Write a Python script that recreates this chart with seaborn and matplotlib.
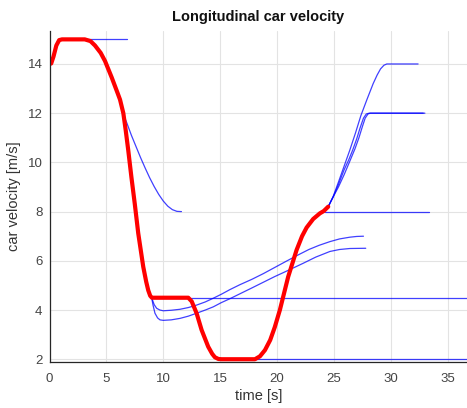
import pandas as pd
import numpy as np
import matplotlib
matplotlib.use("Agg")
import matplotlib.pyplot as plt
import seaborn as sns

### Dados (tempo [s], velocidade [m/s]) ###

# trajetória escolhida (vermelha)
red_t = [0, 0.15, 0.35, 0.6, 0.85, 1.1, 3.1, 3.6, 4.0, 4.5, 4.88, 5.47, 6.0, 6.2,
         6.49, 6.7, 6.92, 7.2, 7.5, 7.8, 8.24, 8.5, 8.68, 8.85, 9.0, 12.2, 12.5,
         12.93, 13.37, 13.95, 14.3, 14.54, 14.85, 15.13, 18.06, 18.5, 18.94, 19.4,
         19.8, 20.25, 20.98, 21.72, 22.2, 22.6, 23.18, 23.77, 24.1, 24.5]
red_v = [14.0, 14.02, 14.3, 14.75, 14.97, 15.0, 15.0, 14.93, 14.75, 14.45, 14.12,
         13.45, 12.8, 12.55, 12.0, 11.3, 10.5, 9.4, 8.3, 7.12, 5.76, 5.15, 4.8,
         4.58, 4.5, 4.5, 4.35, 3.87, 3.19, 2.51, 2.22, 2.08, 2.01, 2.0, 2.0, 2.12,
         2.37, 2.78, 3.3, 4.0, 5.35, 6.44, 7.0, 7.35, 7.7, 7.93, 8.02, 8.2]

# trajetórias candidatas (azuis)
b1_t = [3.1, 6.78]
b1_v = [15.0, 15.0]

b2_t = [6.45, 6.8, 7.2, 7.6, 8.0, 8.4, 8.8, 9.2, 9.6, 10.0, 10.4, 10.8, 11.2, 11.6]
b2_v = [12.0, 11.6, 11.1, 10.65, 10.2, 9.78, 9.38, 9.02, 8.7, 8.43, 8.22, 8.08, 8.01, 8.0]

b3_t = [9.0, 37.5]
b3_v = [4.5, 4.5]

b4_t = [8.98, 9.2, 9.42, 9.7, 10.0, 10.7, 11.47, 12.2, 12.93, 13.7, 14.4, 15.1,
        15.86, 16.74, 17.8, 18.8, 19.8, 20.8, 21.86, 22.8, 23.7, 24.65, 25.5,
        26.4, 27.0, 27.6]
b4_v = [4.5, 4.22, 4.07, 4.0, 3.97, 3.99, 4.03, 4.1, 4.2, 4.33, 4.48, 4.64, 4.83,
        5.03, 5.25, 5.48, 5.73, 5.98, 6.24, 6.46, 6.63, 6.78, 6.89, 6.96, 6.99, 7.0]

b5_t = [8.98, 9.1, 9.27, 9.5, 9.71, 10.0, 10.7, 11.47, 12.2, 12.93, 13.7, 14.4,
        15.1, 15.86, 16.74, 17.8, 18.8, 19.8, 20.6, 21.43, 22.3, 23.4, 24.65,
        25.5, 26.4, 27.8]
b5_v = [4.5, 4.2, 3.87, 3.68, 3.6, 3.58, 3.6, 3.66, 3.75, 3.87, 4.0, 4.13, 4.3,
        4.46, 4.66, 4.9, 5.13, 5.36, 5.53, 5.71, 5.9, 6.15, 6.38, 6.46, 6.5, 6.51]

b6_t = [15.1, 37.5]
b6_v = [2.0, 2.0]

b7_t = [24.2, 33.4]
b7_v = [8.0, 8.0]

b8_t = [24.5, 24.94, 25.4, 25.9, 26.4, 26.9, 27.37, 27.9, 28.45, 28.8, 29.1,
        29.4, 29.65, 32.4]
b8_v = [8.2, 8.62, 9.2, 9.85, 10.5, 11.2, 11.9, 12.55, 13.2, 13.55, 13.8,
        13.95, 14.0, 14.0]

b9_t = [24.5, 24.94, 25.4, 25.9, 26.3, 26.65, 27.0, 27.3, 27.6, 27.85, 28.1, 32.85]
b9_v = [8.2, 8.6, 9.1, 9.7, 10.1, 10.5, 10.95, 11.4, 11.8, 11.97, 12.0, 12.0]

b10_t = [24.5, 24.94, 25.4, 25.9, 26.4, 26.85, 27.2, 27.5, 27.75, 28.0, 28.2, 33.0]
b10_v = [8.2, 8.6, 9.0, 9.5, 10.05, 10.55, 11.0, 11.45, 11.8, 11.97, 12.0, 12.0]

blue_t = [b1_t, b2_t, b3_t, b4_t, b5_t, b6_t, b7_t, b8_t, b9_t, b10_t]
blue_v = [b1_v, b2_v, b3_v, b4_v, b5_v, b6_v, b7_v, b8_v, b9_v, b10_v]

df_blue = pd.concat(
    [pd.DataFrame({"t": t, "v": v, "traj": i}) for i, (t, v) in enumerate(zip(blue_t, blue_v))],
    ignore_index=True)
df_red = pd.DataFrame({"t": red_t, "v": red_v})

### Estilo parecido com o MATLAB ###
sns.set_style("whitegrid", {"grid.color": "#e3e3e3", "axes.edgecolor": "#262626"})
plt.rcParams["font.family"] = ["Liberation Sans", "DejaVu Sans"]

fig = plt.figure(figsize=(4.67, 4.08), dpi=100)
ax = fig.add_axes([0.106, 0.1135, 0.894, 0.8105])

sns.lineplot(data=df_blue, x="t", y="v", units="traj", estimator=None, sort=False,
             color="#0000ff", alpha=0.75, linewidth=0.9, ax=ax)
sns.lineplot(data=df_red, x="t", y="v", sort=False, color="#ff0000",
             linewidth=3.0, ax=ax)

ax.set_xlim(0, 36.7)
ax.set_ylim(1.9, 15.34)
ax.set_xticks([0, 5, 10, 15, 20, 25, 30, 35])
ax.set_yticks([2, 4, 6, 8, 10, 12, 14])
ax.grid(True, color="#e3e3e3", linewidth=0.8)
for s in ["top", "right"]:
    ax.spines[s].set_visible(False)
for s in ["left", "bottom"]:
    ax.spines[s].set_color("#262626")
    ax.spines[s].set_linewidth(0.9)
ax.tick_params(direction="in", length=3, width=0.7, colors="#262626",
               labelcolor="#444444", labelsize=9.5, pad=8)
ax.tick_params(axis="y", pad=5)
ax.set_title("Longitudinal car velocity", fontsize=10.5, fontweight="bold",
             color="#111111", pad=7)
ax.set_xlabel("time [s]", fontsize=10.5, color="#333333", labelpad=3)
ax.set_ylabel("car velocity [m/s]", fontsize=10.5, color="#333333", labelpad=5)

plt.savefig("out.png", dpi=100)
